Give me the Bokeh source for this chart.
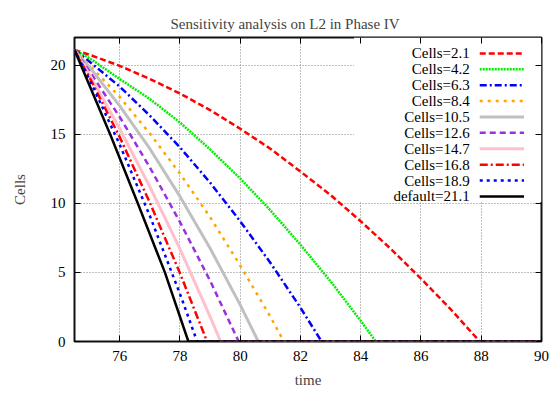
from bokeh.plotting import figure
from bokeh.models import Range1d, FixedTicker, LinearAxis, Label, BoxAnnotation
from bokeh.embed import file_html
from bokeh.resources import INLINE

# ---------------- data ----------------
series_labels = ["Cells=2.1", "Cells=4.2", "Cells=6.3", "Cells=8.4", "Cells=10.5",
                 "Cells=12.6", "Cells=14.7", "Cells=16.8", "Cells=18.9", "default=21.1"]

t_2_1 = [74.5, 75.0, 76.0, 77.0, 78.0, 79.0, 80.0, 81.0, 82.0, 83.0, 84.0, 85.0, 86.0, 87.0, 87.95, 90.0]
y_2_1 = [21.1, 20.75, 19.95, 19.0, 17.95, 16.75, 15.4, 13.95, 12.3, 10.6, 8.7, 6.7, 4.55, 2.3, 0.0, 0.0]

t_4_2 = [74.5, 75.0, 76.0, 77.0, 78.0, 79.0, 80.0, 81.0, 82.0, 83.0, 84.0, 84.5, 90.0]
y_4_2 = [21.1, 20.5, 19.0, 17.55, 15.85, 13.9, 11.8, 9.5, 7.0, 4.35, 1.5, 0.0, 0.0]

t_6_3 = [74.5, 75.0, 76.0, 77.0, 78.0, 79.0, 80.0, 81.0, 82.0, 82.7, 90.0]
y_6_3 = [21.1, 20.25, 18.45, 16.35, 14.05, 11.5, 8.7, 5.7, 2.45, 0.0, 0.0]

t_8_4 = [74.5, 75.0, 76.0, 77.0, 78.0, 79.0, 80.0, 81.0, 81.45, 90.0]
y_8_4 = [21.1, 20.0, 17.7, 15.05, 12.15, 9.0, 5.5, 1.8, 0.0, 0.0]

t_10_5 = [74.5, 75.0, 76.0, 77.0, 78.0, 79.0, 80.0, 80.6, 90.0]
y_10_5 = [21.1, 19.85, 17.05, 13.95, 10.5, 6.75, 2.65, 0.0, 0.0]

t_12_6 = [74.5, 75.0, 76.0, 77.0, 78.0, 79.0, 79.95, 90.0]
y_12_6 = [21.1, 19.55, 16.25, 12.6, 8.65, 4.4, 0.0, 0.0]

t_14_7 = [74.5, 75.0, 76.0, 77.0, 78.0, 79.0, 79.35, 90.0]
y_14_7 = [21.1, 19.3, 15.4, 11.2, 6.7, 1.8, 0.0, 0.0]

t_16_8 = [74.5, 75.0, 76.0, 77.0, 78.0, 78.9, 90.0]
y_16_8 = [21.1, 19.1, 14.8, 10.05, 4.95, 0.0, 0.0]

t_18_9 = [74.5, 75.0, 76.0, 77.0, 78.0, 78.57, 90.0]
y_18_9 = [21.1, 18.95, 14.25, 9.1, 3.45, 0.0, 0.0]

t_default = [74.5, 75.7, 76.6, 77.5, 78.28, 90.0]
y_default = [21.1, 14.9, 10.0, 5.0, 0.0, 0.0]

x_ticks = [76, 78, 80, 82, 84, 86, 88, 90]
y_ticks = [0, 5, 10, 15, 20]

series_t = [t_2_1, t_4_2, t_6_3, t_8_4, t_10_5, t_12_6, t_14_7, t_16_8, t_18_9, t_default]
series_y = [y_2_1, y_4_2, y_6_3, y_8_4, y_10_5, y_12_6, y_14_7, y_16_8, y_18_9, y_default]

# ---------------- styles ----------------
colors = ["#ff0000", "#00ee00", "#0000ff", "#ffa500", "#c0c0c0",
          "#9a30e0", "#ffc0cb", "#ff0000", "#0000ff", "#000000"]
dashes = ["6 3", "2 1", "7 3 2 3", "3 5", "solid",
          "6 4", "solid", "8 3 2 3", "3 4", "solid"]
widths = [2.5, 2.5, 2.5, 2.5, 3.0, 2.5, 3.0, 2.5, 2.5, 2.5]

FONT = "Liberation Serif"

p = figure(width=557, height=393, x_range=Range1d(74.5, 90), y_range=Range1d(0, 22),
           output_backend="svg", toolbar_location=None,
           min_border_left=74, min_border_right=16, min_border_top=37, min_border_bottom=52,
           title="Sensitivity analysis on L2 in Phase IV")

p.title.text_font = FONT
p.title.text_font_size = "15px"
p.title.text_font_style = "normal"
p.title.align = "left"
p.title.offset = 96
p.title.standoff = 8
p.title.vertical_align = "top"

p.outline_line_color = "#111111"
p.outline_line_width = 2
p.background_fill_color = "white"
p.border_fill_color = "white"

for ax in (p.xaxis[0], p.yaxis[0]):
    ax.axis_line_color = None
    ax.major_tick_in = 6
    ax.major_tick_out = 0
    ax.minor_tick_line_color = None
    ax.major_tick_line_color = "black"
    ax.major_label_text_font = FONT
    ax.major_label_text_font_size = "15px"
    ax.major_label_text_color = "black"
    ax.axis_label_text_font = FONT
    ax.axis_label_text_font_size = "15px"
    ax.axis_label_text_font_style = "normal"
    ax.major_label_standoff = 9

p.xaxis[0].ticker = FixedTicker(ticks=x_ticks)
p.yaxis[0].ticker = FixedTicker(ticks=y_ticks)
p.xaxis[0].axis_label = "time"
p.yaxis[0].axis_label = "Cells"
p.xaxis[0].axis_label_standoff = 8
p.yaxis[0].axis_label_standoff = 20

# mirrored tick axes (top and right), with blank labels
for side, ticks in (("above", x_ticks), ("right", y_ticks)):
    ax = LinearAxis(ticker=FixedTicker(ticks=ticks))
    ax.axis_line_color = None
    ax.major_tick_in = 6
    ax.major_tick_out = 0
    ax.minor_tick_line_color = None
    ax.major_label_overrides = {t: "" for t in ticks}
    ax.major_label_standoff = 0
    p.add_layout(ax, side)

p.xgrid.ticker = FixedTicker(ticks=x_ticks)
p.ygrid.ticker = FixedTicker(ticks=y_ticks)
for g in (p.xgrid[0], p.ygrid[0]):
    g.grid_line_color = "#808080"
    g.grid_line_dash = "1 2"
    g.grid_line_width = 1

# legend background (covers grid lines)
p.add_layout(BoxAnnotation(left=83.78, right=90, bottom=10.1, top=22,
                           fill_color="white", fill_alpha=1.0, line_color=None,
                           level="underlay"))

for t, y, c, d, w in zip(series_t, series_y, colors, dashes, widths):
    p.line(t, y, line_color=c, line_dash=d, line_width=w, line_cap="butt",
           line_join="round")

# manual gnuplot-style legend: right aligned label then sample line
LEG_TOP = 20.85
LEG_STEP = 1.15
LEG_TEXT_X = 87.62
LEG_X0, LEG_X1 = 87.95, 89.42
for i, (lab, c, d, w) in enumerate(zip(series_labels, colors, dashes, widths)):
    yy = LEG_TOP - i * LEG_STEP
    p.add_layout(Label(x=LEG_TEXT_X, y=yy, text=lab, text_align="right",
                       text_baseline="middle", text_font=FONT, text_font_size="15px",
                       text_color="black"))
    p.line([LEG_X0, LEG_X1], [yy, yy], line_color=c, line_dash=d, line_width=w,
           line_cap="butt")

open("out.html", "w").write(file_html(p, INLINE))
